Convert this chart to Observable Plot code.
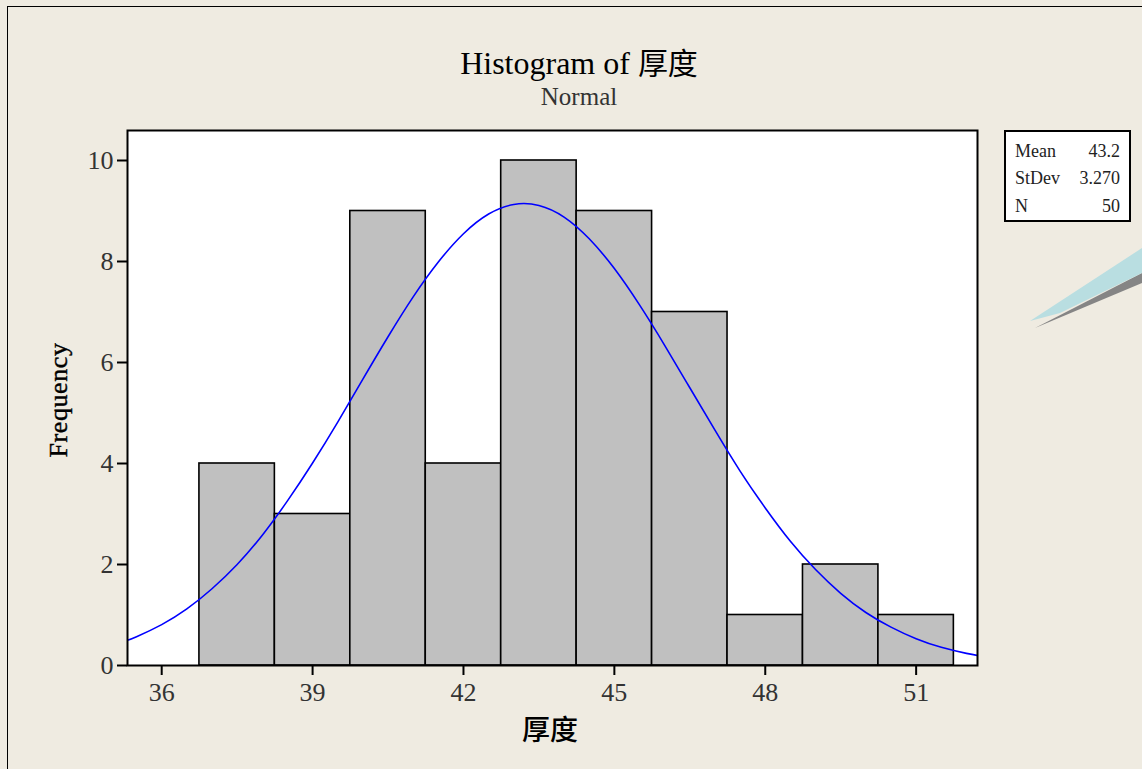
<!DOCTYPE html>
<html>
<head>
<meta charset="utf-8">
<script src="https://cdn.jsdelivr.net/npm/d3@7"></script>
<script src="https://cdn.jsdelivr.net/npm/@observablehq/plot@0.6"></script>
<style>
  html, body { margin: 0; padding: 0; }
  body { width: 1142px; height: 769px; background: #EFEBE1; position: relative; overflow: hidden;
         font-family: "Liberation Serif", "Noto Sans CJK TC", serif; }
  #border { position: absolute; left: 7px; top: 6px; width: 1200px; height: 800px; border-left: 1.5px solid #000; border-top: 1.5px solid #000; }
  #chart { position: absolute; left: 0; top: 0; }
  .title { position: absolute; left: 329px; width: 500px; text-align: center; color: #000; white-space: nowrap; }
  #t1 { top: 42px; font-size: 32px; line-height: 38px; }
  #t1 .cjk { font-family: "Noto Sans CJK TC", sans-serif; font-size: 30px; }
  #t2 { top: 82px; font-size: 25px; line-height: 30px; color: #333; }
  #stats { position: absolute; left: 1004px; top: 130px; width: 123px; height: 88px; background: #fff; border: 2px solid #000;
           font-size: 18px; color: #222; }
  #stats table { border-collapse: collapse; margin: 5px 0 0 9px; width: 105px; }
  #stats td { padding: 0; height: 27.5px; line-height: 18px; }
  #stats td.v { text-align: right; }
  #ylabel { position: absolute; left: 59px; top: 400px; transform: translate(-50%, -50%) rotate(-90deg); font-size: 26px;
            letter-spacing: 0.6px; color: #000; white-space: nowrap; -webkit-text-stroke: 0.4px #000; }
  #xlabel { position: absolute; left: 550px; top: 728px; transform: translate(-50%, -50%); font-size: 28px; font-weight: 500; color: #000;
            font-family: "Noto Sans CJK TC", sans-serif; }
  #deco1 { position: absolute; left: 1020px; top: 240px; width: 122px; height: 100px; background: #B9DEE1;
           clip-path: polygon(10px 81px, 122px 8px, 122px 33px, 40px 73px); }
  #deco2 { position: absolute; left: 1020px; top: 240px; width: 122px; height: 100px; background: #858585;
           clip-path: polygon(15px 88px, 122px 33px, 122px 43px); }
</style>
</head>
<body>
<div id="border"></div>
<div id="deco2"></div>
<div id="deco1"></div>
<div id="chart"></div>
<div class="title" id="t1">Histogram of <span class="cjk">厚度</span></div>
<div class="title" id="t2">Normal</div>
<div id="stats"><table>
  <tr><td>Mean</td><td class="v">43.2</td></tr>
  <tr><td>StDev</td><td class="v">3.270</td></tr>
  <tr><td>N</td><td class="v">50</td></tr>
</table></div>
<div id="ylabel">Frequency</div>
<div id="xlabel">厚度</div>
<script>
// Histogram bins (lower edge, upper edge) and counts
const binLow  = [36.75, 38.25, 39.75, 41.25, 42.75, 44.25, 45.75, 47.25, 48.75, 50.25];
const binHigh = [38.25, 39.75, 41.25, 42.75, 44.25, 45.75, 47.25, 48.75, 50.25, 51.75];
const counts  = [4, 3, 9, 4, 10, 9, 7, 1, 2, 1];

// Fitted normal curve
const curveX = [35.32, 35.5, 36, 36.5, 37, 37.5, 38, 38.5, 39, 39.5, 40, 40.5, 41, 41.5, 42, 42.5, 43, 43.5,
                44, 44.5, 45, 45.5, 46, 46.5, 47, 47.5, 48, 48.5, 49, 49.5, 50, 50.5, 51, 51.5, 52, 52.22];
const curveY = [0.50, 0.57, 0.81, 1.12, 1.52, 2.00, 2.58, 3.26, 4.01, 4.82, 5.67, 6.51, 7.30, 7.99, 8.55, 8.94, 9.13, 9.11,
                8.88, 8.45, 7.86, 7.14, 6.34, 5.50, 4.66, 3.85, 3.12, 2.46, 1.90, 1.43, 1.05, 0.76, 0.53, 0.36, 0.24, 0.20];

const xTicks = [36, 39, 42, 45, 48, 51];
const yTicks = [0, 2, 4, 6, 8, 10];

const bins = counts.map((c, i) => ({x1: binLow[i], x2: binHigh[i], y: c}));
const curve = curveX.map((x, i) => ({x, y: curveY[i]}));

const plot = Plot.plot({
  width: 1142,
  height: 769,
  marginLeft: 127,
  marginRight: 165,
  marginTop: 130,
  marginBottom: 104,
  style: { background: "transparent", fontFamily: "'Liberation Serif', serif", overflow: "visible" },
  x: { domain: [35.32, 52.22] },
  y: { domain: [0, 10.594] },
  marks: [
    Plot.frame({ fill: "#fff" }),
    Plot.rectY(bins, { x1: "x1", x2: "x2", y: "y", fill: "#C0C0C0", stroke: "#000", strokeWidth: 1.6 }),
    Plot.line(curve, { x: "x", y: "y", stroke: "#0000FF", strokeWidth: 1.6, curve: "natural", clip: true }),
    Plot.frame({ stroke: "#000", strokeWidth: 2 }),
    Plot.axisY({ ticks: yTicks, tickSize: 10, tickPadding: 4, fontSize: 26, label: null, stroke: "#000", strokeWidth: 2, fill: "#333" }),
    Plot.axisX({ ticks: xTicks, tickSize: 10, tickPadding: 7, fontSize: 26, label: null, stroke: "#000", strokeWidth: 2, fill: "#333" })
  ]
});
document.getElementById("chart").appendChild(plot);
</script>
</body>
</html>
